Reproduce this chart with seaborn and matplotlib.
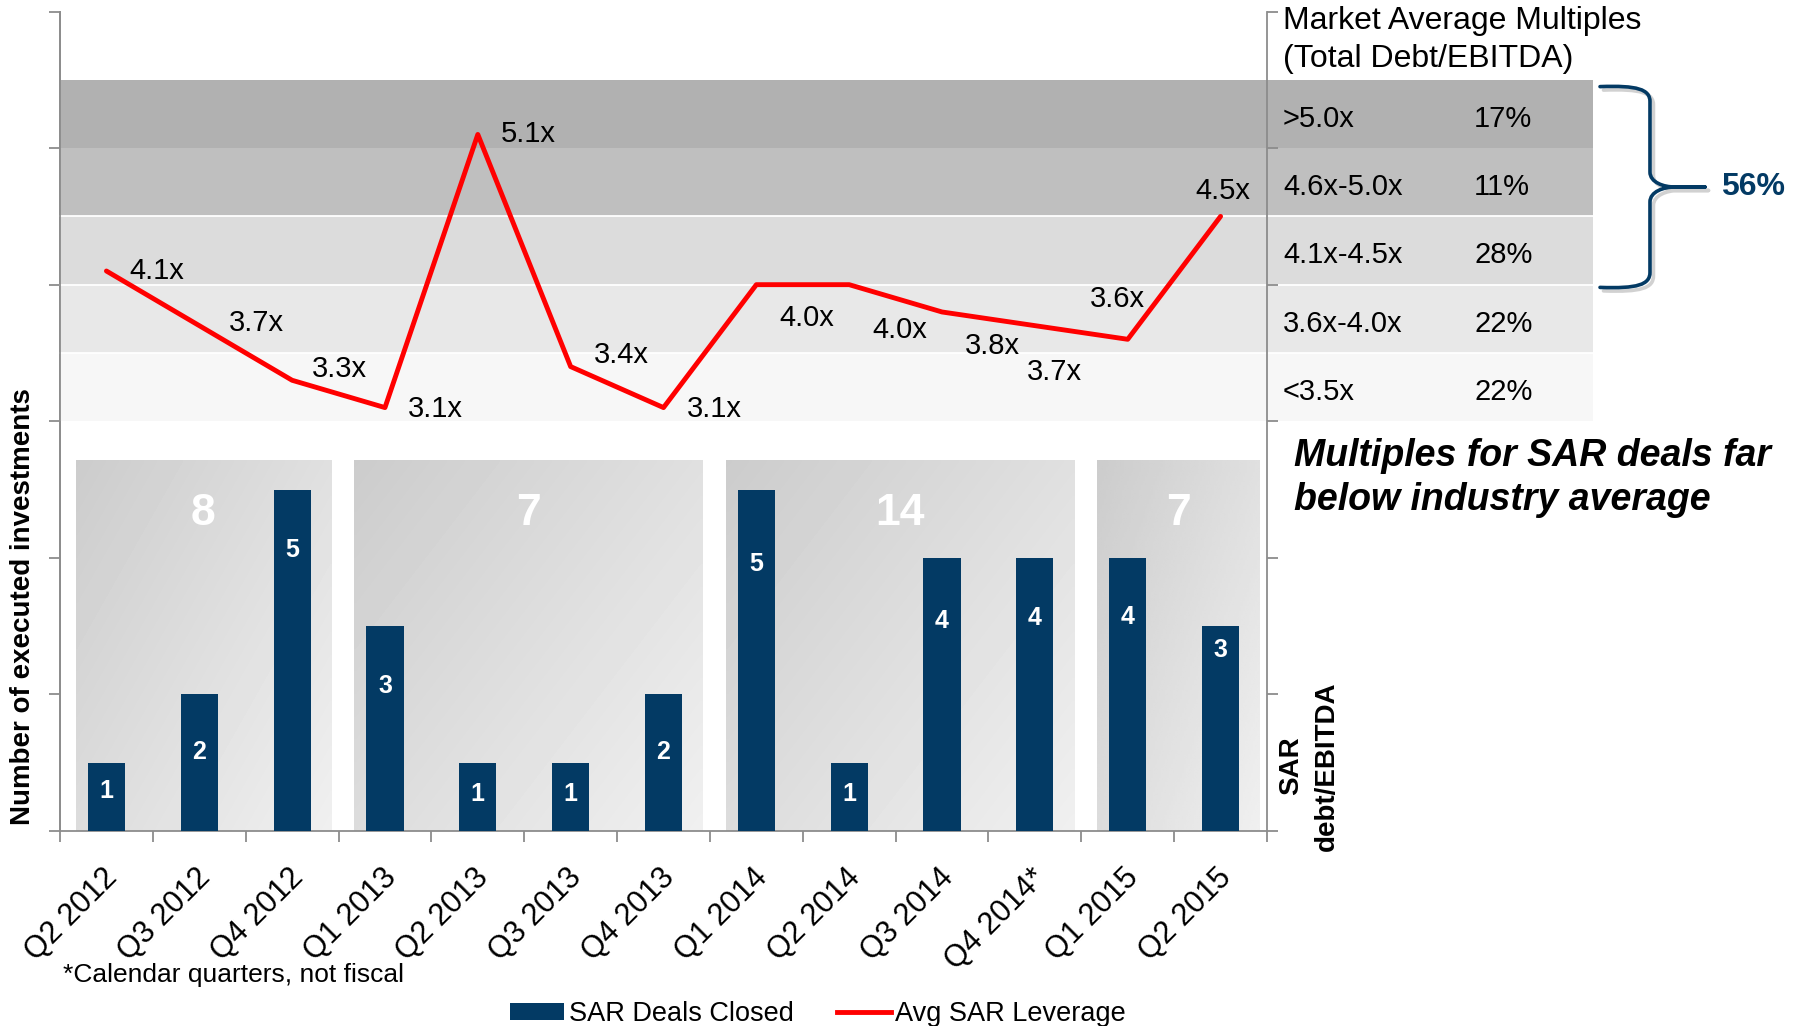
import numpy as np
import pandas as pd
import matplotlib
matplotlib.use("Agg")
import matplotlib.pyplot as plt
import matplotlib.patches as mpatches
import matplotlib.lines as mlines
import matplotlib.transforms as mtransforms
import matplotlib.patheffects as pe
from matplotlib.path import Path
import seaborn as sns

# ---------------- data ----------------
quarters = ["Q2 2012", "Q3 2012", "Q4 2012", "Q1 2013", "Q2 2013", "Q3 2013",
            "Q4 2013", "Q1 2014", "Q2 2014", "Q3 2014", "Q4 2014*", "Q1 2015", "Q2 2015"]
deals_closed = [1, 2, 5, 3, 1, 1, 2, 5, 1, 4, 4, 4, 3]
avg_leverage = [4.1, 3.7, 3.3, 3.1, 5.1, 3.4, 3.1, 4.0, 4.0, 3.8, 3.7, 3.6, 4.5]
year_groups = ["2012", "2012", "2012", "2013", "2013", "2013", "2013",
               "2014", "2014", "2014", "2014", "2015", "2015"]

band_labels = ["<3.5x", "3.6x-4.0x", "4.1x-4.5x", "4.6x-5.0x", ">5.0x"]
band_lower = [3.0, 3.5, 4.0, 4.5, 5.0]
band_upper = [3.5, 4.0, 4.5, 5.0, 5.5]
band_share = [22, 22, 28, 11, 17]
brace_from = 4.0  # bands at or above this multiple are bracketed

# ---------------- style ----------------
W, H = 1804, 1026
NAVY = "#033a64"
RED = "#ff0000"
SPINE = "#8c8c8c"
BAND_COLORS = ["#f7f7f7", "#e8e8e8", "#dcdcdc", "#bfbfbf", "#b1b1b1"]
PANEL_TOP = 5.42
BAND_RIGHT = 1.27
BAR_LABEL_DROP = [28, 58, 60, 60, 31, 31, 58, 74, 31, 63, 60, 59, 24]
LEV_LABEL_OFFSETS = [(23, 0), (30, 3), (20, 11), (23, -1), (23, 0), (23, 12),
                     (23, -1), (23, -33), (23, -45), (23, -34), (-8, -46),
                     (-38, 40), (-25, 25)]

plt.rcParams["font.family"] = ["Liberation Sans", "DejaVu Sans"]

fig = plt.figure(figsize=(W / 100, H / 100), dpi=100)
ax = fig.add_axes([60 / W, 1 - 831 / H, (1267 - 60) / W, (831 - 11.5) / H])

df = pd.DataFrame({"quarter": quarters, "deals": deals_closed,
                   "leverage": avg_leverage, "year": year_groups})
df["pos"] = np.arange(len(df))

# bars
sns.barplot(data=df, x="quarter", y="deals", color=NAVY, saturation=1,
            width=0.4, ax=ax, zorder=3)

# year panels with gradient
gx, gy = np.meshgrid(np.linspace(0, 1, 80), np.linspace(0, 1, 80))
grad = 0.80 + 0.14 * (0.55 * gx + 0.45 * gy)
for yr, grp in df.groupby("year"):
    x0 = grp["pos"].min() - 0.33
    x1 = grp["pos"].max() + 0.42
    ax.imshow(grad, extent=(x0, x1, 0, PANEL_TOP), origin="upper", cmap="gray",
              vmin=0, vmax=1, aspect="auto", zorder=1, interpolation="bilinear")
    ax.annotate(str(grp["deals"].sum()), xy=((x0 + x1) / 2, PANEL_TOP),
                xytext=(0, -53), textcoords="offset pixels", ha="center",
                va="center", color="white", fontsize=32, fontweight="bold",
                zorder=5)

for i, v in enumerate(deals_closed):
    ax.annotate(str(v), xy=(i, v), xytext=(0, -BAR_LABEL_DROP[i]),
                textcoords="offset pixels", ha="center", va="center",
                color="white", fontsize=18, fontweight="bold", zorder=5)

# leverage line on twin axis
ax2 = ax.twinx()
sns.lineplot(data=df, x="pos", y="leverage", ax=ax2, color=RED, linewidth=3.5,
             zorder=5, solid_capstyle="round", errorbar=None)
ax2.set_ylim(0, 6)
ax2.set_yticks(range(7))
ax2.set_yticklabels([])
ax2.set_xlabel("")
ax2.set_ylabel("")

for i, v in enumerate(avg_leverage):
    dx, dy = LEV_LABEL_OFFSETS[i]
    ax2.annotate(f"{v:.1f}x", xy=(i, v), xytext=(dx, dy),
                 textcoords="offset pixels", ha="left", va="center",
                 fontsize=21, color="black", zorder=6)

# bands (market multiples)
trans = mtransforms.blended_transform_factory(ax2.transAxes, ax2.transData)
for lo, hi, c in zip(band_lower, band_upper, BAND_COLORS):
    ax2.add_patch(mpatches.Rectangle((0, lo), BAND_RIGHT, hi - lo, transform=trans,
                                     facecolor=c, edgecolor="none", zorder=0,
                                     clip_on=False))
for lo in band_lower[1:-1]:
    ax2.plot([0, BAND_RIGHT], [lo, lo], transform=trans, color="white", lw=1.3,
             clip_on=False, zorder=0.5)
for lab, lo, hi, sh in zip(band_labels, band_lower, band_upper, band_share):
    yc = (lo + hi) / 2 - 0.035
    ax2.text(1.0133, yc, lab, transform=trans, ha="left", va="center", fontsize=21)
    ax2.text(1.1715, yc, f"{sh}%", transform=trans, ha="left", va="center", fontsize=21)

# brace
sel = [i for i, lo in enumerate(band_lower) if lo >= brace_from]
top = max(band_upper[i] for i in sel) - 0.05
bot = min(band_lower[i] for i in sel) - 0.02
mid = (top + bot) / 2
x0, xs, xp = 1.2759, 1.3173, 1.3629
r = 0.11
verts = [(x0, top), (x0 + 0.75 * (xs - x0), top + 0.01), (xs, top - 0.02), (xs, top - r),
         (xs, mid + r),
         (xs, mid + 0.3 * r), (xs + 0.25 * (xp - xs), mid), (xs + 0.45 * (xp - xs), mid),
         (xp, mid),
         (xp, mid), (xs + 0.45 * (xp - xs), mid),
         (xs + 0.25 * (xp - xs), mid), (xs, mid - 0.3 * r), (xs, mid - r),
         (xs, bot + r),
         (xs, bot + 0.02), (x0 + 0.75 * (xs - x0), bot - 0.01), (x0, bot)]
codes = [Path.MOVETO, Path.CURVE4, Path.CURVE4, Path.CURVE4,
         Path.LINETO,
         Path.CURVE4, Path.CURVE4, Path.CURVE4,
         Path.LINETO,
         Path.MOVETO, Path.LINETO,
         Path.CURVE4, Path.CURVE4, Path.CURVE4,
         Path.LINETO,
         Path.CURVE4, Path.CURVE4, Path.CURVE4]
brace = mpatches.PathPatch(Path(verts, codes), fill=False, edgecolor=NAVY, lw=2.6,
                           transform=trans, clip_on=False, capstyle="round",
                           joinstyle="round",
                           path_effects=[pe.Stroke(offset=(2.5, -2.5), foreground="#9a9a9a",
                                                   alpha=0.45),
                                         pe.Normal()])
ax2.add_patch(brace)
share_sum = sum(band_share[i] for i in sel)
ax2.text(1.376, mid, f"{share_sum}%", transform=trans, ha="left", va="center",
         fontsize=23, fontweight="bold", color=NAVY)

# axes styling
ax.set_xlim(-0.5, len(quarters) - 0.5)
ax.set_ylim(0, 12)
ax.set_yticks(np.arange(0, 13, 2))
ax.set_yticklabels([])
ax.set_xlabel("")
ax.set_ylabel("")
ax.set_xticks(range(len(quarters)))
ax.set_xticklabels(quarters, rotation=45, ha="right", rotation_mode="anchor",
                   fontsize=22)
ax.set_xticks(np.arange(-0.5, len(quarters), 1), minor=True)
ax.tick_params(axis="x", which="major", length=0, pad=23, bottom=True)
ax.tick_params(axis="x", which="minor", length=8, color=SPINE, width=1.3,
               direction="out", bottom=True)
ax.tick_params(axis="y", which="major", length=8, color=SPINE, width=1.3,
               direction="out", left=True)
ax.tick_params(axis="y", which="minor", length=0)
shift = mtransforms.ScaledTranslation(-4 / 100, 0, fig.dpi_scale_trans)
for lbl in ax.get_xticklabels():
    lbl.set_transform(lbl.get_transform() + shift)

for s in ["top", "right"]:
    ax.spines[s].set_visible(False)
for s in ["left", "bottom"]:
    ax.spines[s].set_color(SPINE)
    ax.spines[s].set_linewidth(1.3)
ax2.spines["top"].set_visible(False)
ax2.spines["bottom"].set_visible(False)
for s in ["left", "right"]:
    ax2.spines[s].set_color(SPINE)
    ax2.spines[s].set_linewidth(1.3)
ax2.tick_params(axis="y", length=8, color=SPINE, width=1.3, direction="out", right=True)
ax.grid(False)
ax2.grid(False)

# texts
def fx(px):
    return px / W

def fy(py):
    return 1 - py / H

fig.text(fx(1283), fy(21.5), "Market Average Multiples", fontsize=23, ha="left", va="center")
fig.text(fx(1283), fy(58.5), "(Total Debt/EBITDA)", fontsize=23, ha="left", va="center")
fig.text(fx(1294), fy(456), "Multiples for SAR deals far", fontsize=27, fontweight="bold",
         fontstyle="italic", ha="left", va="center")
fig.text(fx(1294), fy(500), "below industry average", fontsize=27, fontweight="bold",
         fontstyle="italic", ha="left", va="center")
fig.text(fx(23), fy(607), "Number of executed investments", rotation=90, fontsize=20,
         fontweight="bold", ha="center", va="center")
fig.text(fx(1291), fy(766), "SAR", rotation=90, fontsize=20, fontweight="bold",
         ha="center", va="center")
fig.text(fx(1327), fy(766), "debt/EBITDA", rotation=90, fontsize=20, fontweight="bold",
         ha="center", va="center")
fig.text(fx(63), fy(975), "*Calendar quarters, not fiscal", fontsize=19, ha="left", va="center")

handles = [mpatches.Patch(facecolor=NAVY, label="SAR Deals Closed"),
           mlines.Line2D([], [], color=RED, lw=3.5, label="Avg SAR Leverage")]
fig.legend(handles=handles, loc="center", bbox_to_anchor=(fx(818), fy(1014)), ncol=2,
           frameon=False, fontsize=19.5, handlelength=2.0, handletextpad=0.15,
           columnspacing=1.6, handleheight=0.6, borderpad=0.1)

fig.savefig("out.png", dpi=100)
